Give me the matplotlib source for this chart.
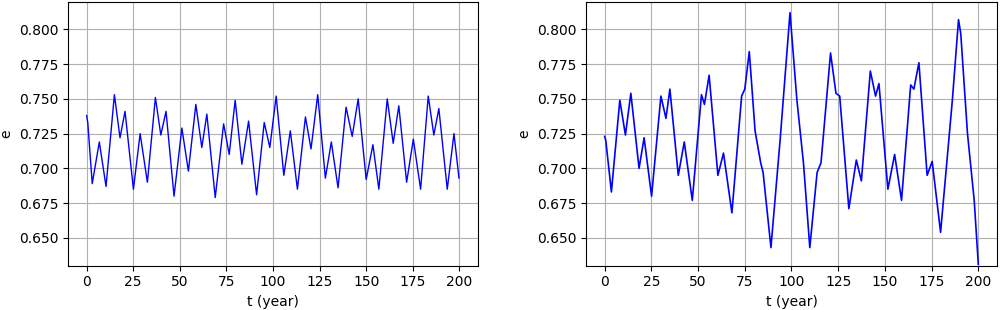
import matplotlib.pyplot as plt

# left panel: peaks / troughs
t_left = [0, 0.6, 3.0, 6.8, 10.4, 14.9, 17.9, 20.6, 25.1, 28.7, 32.6, 36.9, 39.8,
          42.6, 46.9, 51.1, 54.6, 58.6, 61.8, 64.5, 69.0, 73.5, 76.5, 79.7, 83.3,
          86.9, 91.2, 95.3, 98.3, 101.7, 105.8, 109.3, 113.1, 117.4, 120.4, 124.0,
          128.1, 131.3, 134.9, 139.2, 142.5, 145.7, 150.0, 153.6, 156.8, 161.3,
          164.5, 167.5, 171.7, 175.3, 179.2, 183.3, 186.3, 189.0, 193.5, 197.1, 199.8]
e_left = [0.738, 0.733, 0.689, 0.719, 0.687, 0.753, 0.722, 0.741, 0.685, 0.725,
          0.690, 0.751, 0.724, 0.741, 0.680, 0.729, 0.698, 0.746, 0.715, 0.739,
          0.679, 0.732, 0.710, 0.749, 0.703, 0.734, 0.681, 0.733, 0.715, 0.752,
          0.695, 0.727, 0.685, 0.737, 0.714, 0.753, 0.693, 0.719, 0.686, 0.744,
          0.723, 0.750, 0.692, 0.717, 0.685, 0.750, 0.718, 0.745, 0.690, 0.721,
          0.685, 0.752, 0.724, 0.743, 0.685, 0.725, 0.693]

# right panel
t_right = [0, 0.6, 3.6, 8.1, 11.1, 14.0, 18.4, 21.1, 25.1, 30.1, 32.8, 34.9, 39.4,
           42.6, 46.9, 51.8, 53.4, 55.9, 60.6, 63.6, 68.1, 73.3, 75.0, 77.4, 80.5,
           83.5, 84.8, 89.0, 94.0, 99.2, 102.9, 106.4, 109.8, 113.7, 115.8, 120.9,
           123.8, 125.8, 130.7, 134.7, 137.4, 142.2, 145.0, 146.8, 151.6, 155.2,
           158.9, 163.8, 165.5, 168.2, 172.6, 175.3, 179.8, 186.1, 189.4, 190.6,
           194.2, 197.8, 200]
e_right = [0.723, 0.720, 0.683, 0.749, 0.724, 0.754, 0.700, 0.722, 0.680, 0.752,
           0.736, 0.757, 0.695, 0.719, 0.677, 0.753, 0.746, 0.767, 0.695, 0.711,
           0.668, 0.752, 0.757, 0.784, 0.727, 0.704, 0.697, 0.643, 0.722, 0.812,
           0.749, 0.704, 0.643, 0.697, 0.704, 0.783, 0.754, 0.752, 0.671, 0.706,
           0.691, 0.770, 0.752, 0.761, 0.685, 0.710, 0.677, 0.760, 0.757, 0.776,
           0.695, 0.705, 0.654, 0.749, 0.807, 0.797, 0.725, 0.677, 0.631]

fig = plt.figure(figsize=(10, 3.1), dpi=100)
ax1 = fig.add_axes([0.068, 0.143, 0.41, 0.852])
ax2 = fig.add_axes([0.586, 0.143, 0.411, 0.852])

ax1.plot(t_left, e_left, color='b', lw=1.0)
ax2.plot(t_right, e_right, color='b', lw=1.2)

for ax in (ax1, ax2):
    ax.set_ylim(0.63, 0.82)
    ax.set_xlim(-10, 210)
    ax.set_xticks([0, 25, 50, 75, 100, 125, 150, 175, 200])
    ax.set_yticks([0.650, 0.675, 0.700, 0.725, 0.750, 0.775, 0.800])
    ax.set_xlabel('t (year)')
    ax.set_ylabel('e')
    ax.grid(True)

fig.savefig('out.png')
